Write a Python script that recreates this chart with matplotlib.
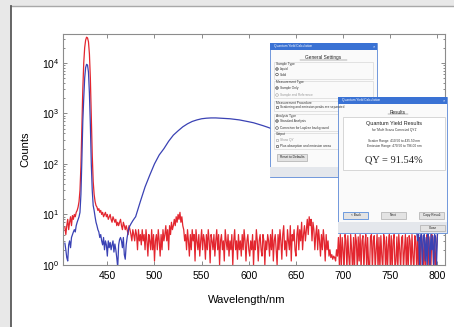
import numpy as np
import matplotlib
matplotlib.use('Agg')
import matplotlib.pyplot as plt
from matplotlib.patches import Rectangle, Circle

plt.rcParams['font.family'] = ['Liberation Sans', 'DejaVu Sans']
plt.rcParams['mathtext.fontset'] = 'custom'
plt.rcParams['mathtext.rm'] = 'Liberation Sans'

# red trace (blank / scatter), 1 nm steps starting at 405 nm
red_start = 405
red_counts = [
    5.6, 4, 6, 8, 5, 7, 9, 6, 9.5, 8,
    10, 9, 11, 12, 14, 18, 30, 90, 500, 3000,
    10000, 20000, 28000, 32000, 31000, 26000, 15000, 5000, 900, 150,
    45, 25, 18, 15, 14, 12, 13, 11, 12, 10,
    11, 9, 10, 11, 9, 10, 8, 9, 10, 8,
    7, 9, 8, 7, 8, 6, 7, 6, 7, 8,
    6, 5, 7, 6, 5, 6, 5, 4, 6, 5,
    4, 3, 5, 4, 3, 5, 4, 2, 5, 3,
    4, 2.5, 5, 3, 4, 2, 5, 3, 1.5, 4,
    3, 2, 5, 2, 4, 1.2, 3, 4, 2, 5,
    3, 1.5, 4, 2, 5, 3, 4, 6, 3, 5,
    2, 6, 4, 7, 5, 6, 8, 6, 9, 7,
    10, 8, 11, 7, 9, 6, 5, 3, 4, 2,
    5, 3, 1.5, 4, 2, 5, 3, 4, 1.2, 5,
    3, 2, 4, 1.5, 3, 5, 2, 4, 3, 1.3,
    4, 2, 5, 3, 1.1, 4, 3, 2, 4, 1.5,
    3, 5, 2, 4, 1, 3, 4, 2, 3, 1.2,
    5, 3, 2, 4, 1.5, 3, 2, 4, 1, 3,
    5, 2, 3, 1.3, 4, 2, 3, 1.5, 4, 2,
    5, 3, 1.2, 3, 4, 2, 1.5, 3, 2, 4,
    1, 3, 2, 5, 3, 1.2, 3, 4, 2, 1.5,
    4, 3, 1, 3, 2, 4, 3, 1.5, 4, 2,
    5, 1.2, 3, 4, 2, 1, 4, 2, 5, 3,
    1.3, 4, 6, 2, 3, 1.5, 5, 3, 2, 6,
    1.2, 4, 3, 5, 2, 1.5, 4, 6, 2, 5,
    3, 7, 2, 4, 6, 3, 5, 8, 4, 9,
    6, 8, 3, 7, 5, 2, 4, 6, 2, 5,
    3, 1.5, 4, 2, 5, 3, 1.2, 4, 2, 3,
    1.5, 2, 1.4, 1.6, 1.3, 1.5, 1.4, 1.2, 2, 1.5,
    3.5, 1, 4, 0.8, 3.5, 2, 0.8, 4, 3, 0.8,
    3.8, 1.5, 0.8, 4, 2, 0.8, 3.5, 0.8, 4, 3,
    0.8, 3.6, 1.2, 4, 0.8, 3, 3.8, 0.8, 2.5, 4,
    0.8, 3.5, 1, 0.8, 3.6, 4, 0.8, 3, 3.8, 0.8,
    2, 4, 0.8, 3.5, 0.8, 3.8, 1.5, 0.8, 4, 3,
    0.8, 3.6, 0.8, 2.5, 4, 0.8, 3.8, 0.8, 3, 4,
    0.8, 1.2, 3.6, 0.8, 4, 2, 0.8, 3.5, 3.8, 0.8,
    2, 4, 0.8, 3.5, 0.8, 3.8, 3, 0.8, 4, 1.5,
    0.8, 3.8, 3, 0.8, 4, 0.8, 3.5, 0.8, 4, 2.5,
    0.8, 3.8, 0.8, 3, 4, 0.8, 3.6, 1, 0.8, 4,
    3.5, 0.8, 3.8, 0.8, 2, 4,
]

# blue trace (sample): 1 nm around the scatter peak, 5 nm over the emission band, 1 nm at the end
blue_start_a = 405
blue_a = [
    2.7, 2, 1.4, 1.2, 2.5, 3, 2.2, 3.5, 4, 4.5,
    5, 4.5, 6, 7, 8, 9, 11, 25, 120, 700,
    2000, 5000, 8000, 9300, 9000, 6500, 2500, 600, 100, 30,
    15, 12, 9, 7, 6, 5, 4.5, 3.5, 4, 3,
    2.5, 3.5, 2, 3, 2.5, 1.5, 3, 2.2, 2.8, 2,
    2.5, 3, 1.8, 2.6, 2, 1.4, 0.9, 2.5, 3.2, 3.5,
    3, 2.2, 3.5, 1.6, 1.3, 2.5, 3.5, 4.5, 5.5, 6,
    6.5, 7, 7.5, 8, 8.5, 9,
]
blue_start_b = 485
blue_b = [
    18, 35, 60, 100, 150, 200, 280, 370, 450, 540,
    620, 690, 740, 780, 800, 810, 810, 800, 790, 780,
    760, 740, 710, 680, 650, 610, 570, 530, 490, 450,
    410, 370, 335, 300, 270, 240, 215, 190, 170, 150,
    130, 115, 100, 90, 80, 70, 60, 52, 46, 40,
    35, 30, 26, 22, 19, 16, 14, 12, 10,
]
blue_start_c = 776
blue_c = [
    8, 6, 4.5, 3, 4, 1, 3.5, 4.2, 0.8, 3.8,
    4, 1.2, 3.5, 0.8, 4.2, 3, 0.8, 4, 2, 3.8,
    0.8, 4, 3.5, 1, 4,
]

x_ticks = [450, 500, 550, 600, 650, 700, 750, 800]

red_wl = red_start + np.arange(len(red_counts))
blue_wl = np.concatenate([blue_start_a + np.arange(len(blue_a)),
                          blue_start_b + 5 * np.arange(len(blue_b)),
                          blue_start_c + np.arange(len(blue_c))])
blue_counts = np.array(blue_a + blue_b + blue_c)

W, H = 454, 327
fig = plt.figure(figsize=(W / 100, H / 100), dpi=100, facecolor='#e8e8e8')

# background panel
bg = fig.add_axes([0, 0, 1, 1], zorder=0)
bg.set_xlim(0, W)
bg.set_ylim(H, 0)
bg.axis('off')
bg.add_patch(Rectangle((11, 6), W - 11, H - 6, facecolor='white', edgecolor='none'))
bg.plot([10.5, W], [5.8, 5.8], color='#a8a8a8', lw=1.0)
bg.plot([10.5, 10.5], [5.8, H], color='#5a5a5a', lw=1.3)


def px_axes(x0, y0, x1, y1):
    return [x0 / W, 1 - y1 / H, (x1 - x0) / W, (y1 - y0) / H]


ax = fig.add_axes(px_axes(63, 34, 445, 265), zorder=1)
ax.plot(red_wl, red_counts, color='#e3262f', lw=0.9)
ax.plot(blue_wl, blue_counts, color='#3a42b4', lw=0.9)
ax.set_yscale('log')
ax.set_xlim(403, 808)
ax.set_ylim(1, 3.7e4)
ax.set_xticks(x_ticks)
ax.tick_params(which='both', direction='in', top=True, right=True, color='#777777', width=0.6)
ax.tick_params(which='major', length=3, labelsize=7.5, pad=4)
ax.tick_params(which='minor', length=1.5)
ax.tick_params(axis='y', pad=2.5)
for s in ax.spines.values():
    s.set_color('#8c8c8c')
    s.set_linewidth(0.8)

fig.text(247 / W, 1 - 300 / H, 'Wavelength/nm', fontsize=8, ha='center', va='center')
fig.text(25 / W, 1 - 149 / H, 'Counts', fontsize=8, ha='center', va='center', rotation=90)

# software dialog screenshots pasted over the plot
ov = fig.add_axes([0, 0, 1, 1], zorder=3)
ov.set_xlim(0, W)
ov.set_ylim(H, 0)
ov.axis('off')


def window(x0, y0, x1, y1, band_top):
    ov.add_patch(Rectangle((x0, y0), x1 - x0, y1 - y0, facecolor='#fafafa', edgecolor='#5a88d6', lw=0.6))
    ov.add_patch(Rectangle((x0, band_top), x1 - x0, y1 - band_top, facecolor='#e4e7ec', edgecolor='none'))
    ov.add_patch(Rectangle((x0, y0), x1 - x0, 6.5, facecolor='#3a72d4', edgecolor='none'))
    ov.text(x0 + 4, y0 + 3.4, 'Quantum Yield Calculation', fontsize=2.3, color='white', va='center')
    ov.text(x1 - 3.5, y0 + 3.4, '×', fontsize=3, color='white', va='center', ha='center')


def button(x0, y0, x1, y1, label, edge='#adadad'):
    ov.add_patch(Rectangle((x0, y0), x1 - x0, y1 - y0, facecolor='#e3e3e3', edgecolor=edge, lw=0.5))
    ov.text((x0 + x1) / 2, (y0 + y1) / 2, label, fontsize=2.3, ha='center', va='center', color='#222222')


def radio(x, y, label, on=False, grey=False):
    c = '#999999' if grey else '#333333'
    ov.add_patch(Circle((x, y), 1.3, facecolor='white', edgecolor=c, lw=0.4))
    if on:
        ov.add_patch(Circle((x, y), 0.7, facecolor='#333333', edgecolor='none'))
    ov.text(x + 2.5, y, label, fontsize=2.3, va='center', color=c)


def check(x, y, label, grey=False):
    c = '#999999' if grey else '#333333'
    ov.add_patch(Rectangle((x - 1.3, y - 1.3), 2.6, 2.6, facecolor='white', edgecolor=c, lw=0.4))
    ov.text(x + 2.5, y, label, fontsize=2.3, va='center', color=c)


def group(y0, y1, title):
    ov.add_patch(Rectangle((274, y0), 99, y1 - y0, facecolor='none', edgecolor='#d0d0d0', lw=0.4))
    ov.text(276, y0 + 1.5, title, fontsize=2.3, va='center', color='#333333')


# General Settings window
window(270, 43, 377, 177, 167)
ov.text(323.5, 57, 'General Settings', fontsize=3.4, ha='center', va='center', color='#222222')
ov.plot([300, 347], [59.5, 59.5], color='#555555', lw=0.3)
group(62, 79, 'Sample Type')
radio(277, 69, 'Liquid', on=True)
radio(277, 74.5, 'Solid')
group(81, 98, 'Measurement Type')
radio(277, 88, 'Sample Only', on=True)
radio(277, 95, 'Sample and Reference', grey=True)
group(101, 111, 'Measurement Procedure')
check(277, 107, 'Scattering and emission peaks are separated')
group(114, 131, 'Analysis Type')
radio(277, 121, 'Standard Analysis', on=True)
radio(277, 128, 'Correction for Lapfree background')
group(133, 149, 'Output')
check(277, 140, 'Show QY', grey=True)
check(277, 146, 'Plus absorption and emission areas')
button(277, 153.5, 307, 160.5, 'Reset to Defaults')

# Results window
window(338, 97, 447, 233, 222)
ov.text(398, 112, 'Results', fontsize=3.4, ha='center', va='center', color='#222222')
ov.plot([388, 408], [114.3, 114.3], color='#555555', lw=0.3)
ov.add_patch(Rectangle((343, 117), 102, 53, facecolor='white', edgecolor='#c8c8c8', lw=0.5))
ov.text(394, 124, 'Quantum Yield Results', fontsize=4, ha='center', va='center', color='#222222')
ov.text(394, 129.5, "for 'Multi Scans Corrected QY1'", fontsize=2.3, ha='center', va='center', color='#333333')
ov.text(394, 141, 'Scatter Range: 410.50 to 435.50 nm', fontsize=2.3, ha='center', va='center', color='#333333')
ov.text(394, 146, 'Emission Range: 470.50 to 796.00 nm', fontsize=2.3, ha='center', va='center', color='#333333')
ov.text(394, 160, 'QY = 91.54%', fontsize=7.5, ha='center', va='center', color='#222222',
        family=['Liberation Serif', 'DejaVu Serif'])
button(343, 211.5, 368, 218.5, '< Back', edge='#3b7ad8')
button(381, 211.5, 406, 218.5, 'Next')
button(419, 211.5, 444, 218.5, 'Copy Result')
button(420, 224.5, 445, 231, 'Close')

fig.savefig('out.png', dpi=100, facecolor=fig.get_facecolor())
